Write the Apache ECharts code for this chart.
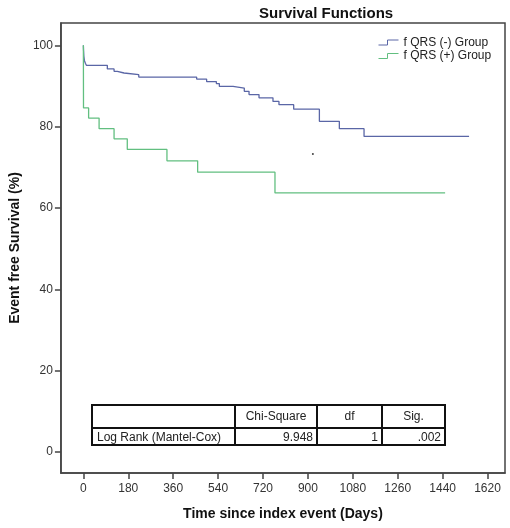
<!DOCTYPE html>
<html>
<head>
<meta charset="utf-8">
<script src="https://cdn.jsdelivr.net/npm/echarts@6/dist/echarts.min.js"></script>
<style>html,body{margin:0;padding:0;background:#fff;}#c{width:510px;height:528px;}</style>
</head>
<body>
<div id="c"></div>
<script>
// ---- data ----
var xTicks = [0, 180, 360, 540, 720, 900, 1080, 1260, 1440, 1620];
var yTicks = [0, 20, 40, 60, 80, 100];
var seriesNames = ['f QRS (-) Group', 'f QRS (+) Group'];
var negTimes = [0, 1, 2, 4, 8, 12, 96, 123, 136, 163, 222, 454, 494, 533, 545, 600, 645, 664, 704, 760, 784, 843, 946, 1026, 1125, 1546];
var negSurv  = [100, 98.5, 97.3, 96.3, 95.6, 95.1, 94.2, 93.6, 93.2, 92.8, 92.2, 91.7, 91.1, 90.6, 89.9, 89.5, 88.7, 87.9, 87.1, 86.2, 85.4, 84.3, 81.3, 79.5, 77.6, 77.6];
var posTimes = [0, 0.5, 21, 63, 123, 176, 335, 458, 768, 1450];
var posSurv  = [100, 84.6, 82.1, 79.5, 77.0, 74.4, 71.6, 68.8, 63.7, 63.7];
var strayDot = [[920, 73.3]];
var tableHeader = ['', 'Chi-Square', 'df', 'Sig.'];
var tableRow = ['Log Rank (Mantel-Cox)', '9.948', '1', '.002'];

function zip(a, b) { return a.map(function (v, i) { return [v, b[i]]; }); }

var chart = echarts.init(document.getElementById('c'), null, { renderer: 'canvas' });
var FONT = '"Liberation Sans", Arial, sans-serif';
var blue = '#5a66a6', green = '#62bf80';
var stepIcon = 'path://M0,10 L9,10 L9,0 L20,0';

// table geometry
var tx = [92, 235, 317, 382, 445];
var ty = [405, 428, 445];
var gfx = [];
gfx.push({ type: 'rect', shape: { x: tx[0], y: ty[0], width: tx[4] - tx[0], height: ty[2] - ty[0] }, style: { fill: 'none', stroke: '#111', lineWidth: 2 }, z: 50 });
gfx.push({ type: 'line', shape: { x1: tx[0], y1: ty[1], x2: tx[4], y2: ty[1] }, style: { stroke: '#111', lineWidth: 2 }, z: 50 });
for (var i = 1; i < 4; i++) {
  gfx.push({ type: 'line', shape: { x1: tx[i], y1: ty[0], x2: tx[i], y2: ty[2] }, style: { stroke: '#111', lineWidth: 2 }, z: 50 });
}
for (var j = 1; j < 4; j++) {
  gfx.push({ type: 'text', x: (tx[j] + tx[j + 1]) / 2, y: (ty[0] + ty[1]) / 2, style: { text: tableHeader[j], font: '12px ' + FONT, fill: '#222', align: 'center', verticalAlign: 'middle' }, z: 51 });
}
gfx.push({ type: 'text', x: tx[0] + 5, y: (ty[1] + ty[2]) / 2 + 1, style: { text: tableRow[0], font: '12px ' + FONT, fill: '#222', align: 'left', verticalAlign: 'middle' }, z: 51 });
for (var k = 1; k < 4; k++) {
  gfx.push({ type: 'text', x: tx[k + 1] - 4, y: (ty[1] + ty[2]) / 2 + 1, style: { text: tableRow[k], font: '12px ' + FONT, fill: '#222', align: 'right', verticalAlign: 'middle' }, z: 51 });
}

var option = {
  animation: false,
  backgroundColor: '#fff',
  title: {
    text: 'Survival Functions', left: 254, top: 1,
    textStyle: { fontFamily: FONT, fontSize: 15, fontWeight: 'bold', color: '#111' }
  },
  legend: {
    orient: 'vertical', left: 378, top: 36.5, padding: 0, itemWidth: 20, itemHeight: 5, itemGap: 1.5, itemTextGap: 3,
    symbolKeepAspect: false,
    textStyle: { fontFamily: FONT, fontSize: 12, color: '#222' },
    data: [
      { name: seriesNames[0], icon: stepIcon, itemStyle: { color: 'transparent', borderColor: blue, borderWidth: 1 } },
      { name: seriesNames[1], icon: stepIcon, itemStyle: { color: 'transparent', borderColor: green, borderWidth: 1 } }
    ]
  },
  grid: { left: 58, top: 23, right: 5, bottom: 55, show: true, borderColor: '#444', borderWidth: 1.5, containLabel: false },
  xAxis: {
    type: 'value', min: -90, max: 1690,
    name: 'Time since index event (Days)', nameLocation: 'middle', nameGap: 34,
    nameTextStyle: { fontFamily: FONT, fontSize: 14, fontWeight: 'bold', color: '#111' },
    axisLine: { show: true, onZero: false, lineStyle: { color: '#444', width: 1.5 } },
    axisTick: { show: true, length: 6, customValues: xTicks, lineStyle: { color: '#444', width: 1.5 } },
    axisLabel: { customValues: xTicks, margin: 10, fontFamily: FONT, fontSize: 12, color: '#333', formatter: function (v) { return String(v); } },
    splitLine: { show: false }
  },
  yAxis: {
    type: 'value', min: -5.2, max: 105.5,
    name: 'Event free Survival (%)', nameLocation: 'middle', nameGap: 35,
    nameTextStyle: { fontFamily: FONT, fontSize: 14, fontWeight: 'bold', color: '#111' },
    axisLine: { show: true, onZero: false, lineStyle: { color: '#444', width: 1.5 } },
    axisTick: { show: true, length: 6, customValues: yTicks, lineStyle: { color: '#444', width: 1.5 } },
    axisLabel: { customValues: yTicks, margin: 8, fontFamily: FONT, fontSize: 12, color: '#333', formatter: function (v) { return String(v); } },
    splitLine: { show: false }
  },
  series: [
    { name: seriesNames[0], type: 'line', step: 'end', data: zip(negTimes, negSurv), showSymbol: false, symbol: 'none', lineStyle: { color: blue, width: 1.3 }, itemStyle: { color: blue } },
    { name: seriesNames[1], type: 'line', step: 'end', data: zip(posTimes, posSurv), showSymbol: false, symbol: 'none', lineStyle: { color: green, width: 1.3 }, itemStyle: { color: green } },
    { name: 'dot', type: 'scatter', data: strayDot, symbolSize: 2, itemStyle: { color: '#111' }, silent: true }
  ],
  graphic: gfx
};
chart.setOption(option);
</script>
</body>
</html>
